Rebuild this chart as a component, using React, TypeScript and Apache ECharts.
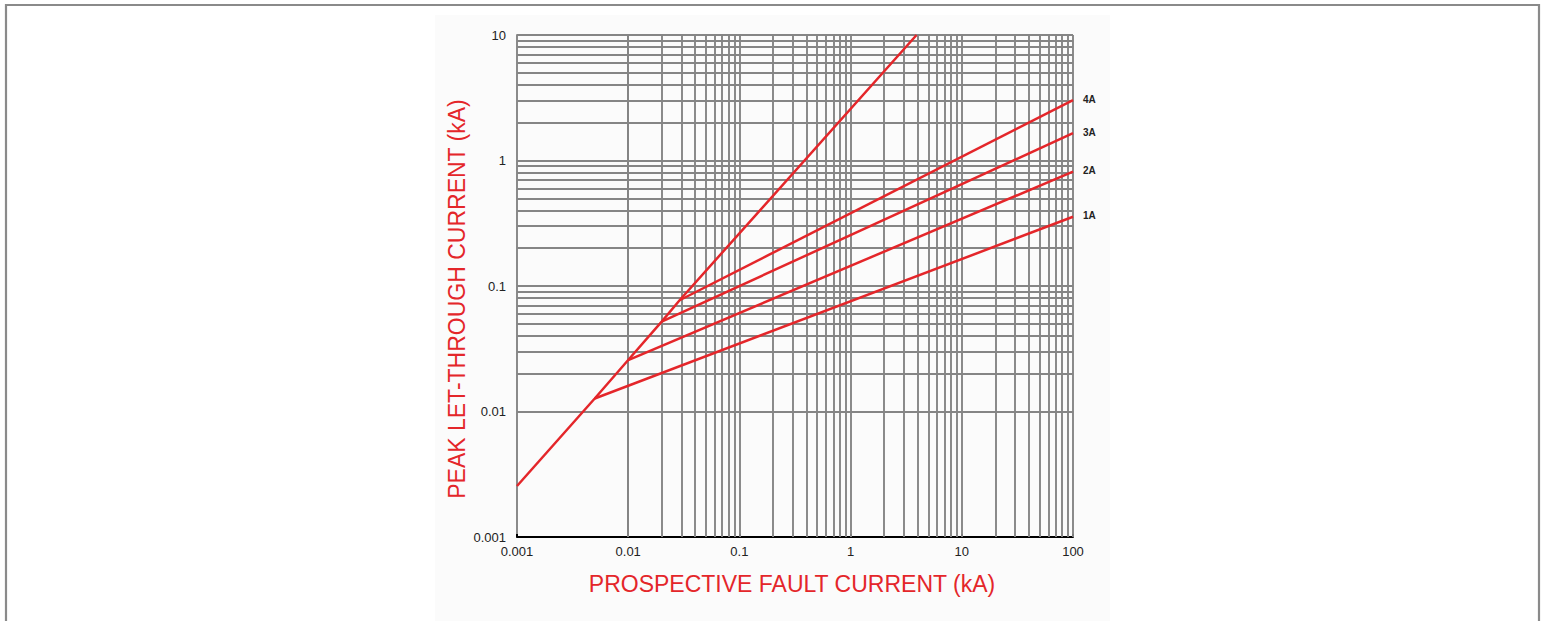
import React, { useEffect, useRef } from "react";
import * as echarts from "echarts";

// Tick labels
const xTickLabels = ["0.001", "0.01", "0.1", "1", "10", "100"];
const yTickLabels = ["0.001", "0.01", "0.1", "1", "10"];

// Axis titles
const xTitle = "PROSPECTIVE FAULT CURRENT (kA)";
const yTitle = "PEAK LET-THROUGH CURRENT (kA)";

// Cut-off envelope (prospective kA, peak kA)
const envelopeX = [0.001, 0.005, 0.01, 0.02, 0.029, 3.92];
const envelopeY = [0.00255, 0.0127, 0.0257, 0.052, 0.077, 10];

// Fuse rating curves
const ratingNames = ["1A", "2A", "3A", "4A"];
const ratingX = [
  [0.005, 100],
  [0.01, 100],
  [0.02, 100],
  [0.029, 100],
];
const ratingY = [
  [0.0127, 0.356],
  [0.0257, 0.815],
  [0.052, 1.65],
  [0.077, 3.03],
];

const RED = "#e4262a";
const GRID = "#858585";

function logGridValues(minExp: number, maxExp: number): number[] {
  const out: number[] = [];
  for (let e = minExp; e < maxExp; e++) {
    for (let k = 1; k <= 9; k++) {
      if (e === minExp && k === 1) continue;
      out.push(Number((k * Math.pow(10, e)).toPrecision(3)));
    }
  }
  out.push(Math.pow(10, maxExp));
  return out;
}

export default function App() {
  const ref = useRef<HTMLDivElement>(null);
  useEffect(() => {
    if (!ref.current) return;
    const chart = echarts.init(ref.current, null, { renderer: "svg" });
    const xGrid = logGridValues(-3, 2);
    const yGrid = logGridValues(-3, 1);
    const gridMarks = [
      ...xGrid.map((v) => ({ xAxis: v })),
      ...yGrid.map((v) => ({ yAxis: v })),
    ];
    const font = "Liberation Sans, Arial, sans-serif";
    const series: any[] = [
      {
        name: "grid",
        type: "line",
        data: [[0.001, 0.001]],
        symbol: "none",
        lineStyle: { width: 0 },
        z: 1,
        silent: true,
        markLine: {
          silent: true,
          symbol: "none",
          label: { show: false },
          lineStyle: { color: GRID, width: 1.9, type: "solid" },
          emphasis: { disabled: true },
          data: gridMarks,
        },
      },
      {
        name: "envelope",
        type: "line",
        data: envelopeX.map((x, i) => [x, envelopeY[i]]),
        symbol: "none",
        lineStyle: { color: RED, width: 2.5 },
        z: 5,
      },
      ...ratingNames.map((n, i) => ({
        name: n,
        type: "line",
        data: ratingX[i].map((x, j) => [x, ratingY[i][j]]),
        symbol: "none",
        lineStyle: { color: RED, width: 2.5 },
        z: 5,
        endLabel: {
          show: true,
          formatter: n,
          color: "#222",
          fontWeight: "bold",
          fontSize: 10,
          fontFamily: font,
          distance: 10,
          offset: [0, -1],
        },
      })),
    ];
    chart.setOption({
      animation: false,
      backgroundColor: "#ffffff",
      graphic: [
        {
          type: "rect",
          shape: { x: 435, y: 15, width: 675, height: 620 },
          style: { fill: "#fbfbfb" },
          z: -10,
          silent: true,
        },
        {
          type: "rect",
          shape: { x: 6, y: 5, width: 1533, height: 700 },
          style: { fill: "none", stroke: "#8a8a8a", lineWidth: 2.2 },
          z: -9,
          silent: true,
        },
        {
          type: "text",
          x: 792,
          y: 584,
          style: {
            text: xTitle,
            fill: RED,
            font: `23px ${font}`,
            textAlign: "center",
            textVerticalAlign: "middle",
          },
          silent: true,
        },
        {
          type: "text",
          x: 457,
          y: 299,
          rotation: Math.PI / 2,
          style: {
            text: yTitle,
            fill: RED,
            font: `23px ${font}`,
            textAlign: "center",
            textVerticalAlign: "middle",
          },
          silent: true,
        },
      ],
      grid: { left: 517, right: 470, top: 35, bottom: 84, containLabel: false },
      xAxis: {
        type: "log",
        logBase: 10,
        min: 0.001,
        max: 100,
        interval: 1,
        axisLine: { show: true, lineStyle: { color: "#000", width: 2 } },
        axisTick: { show: true, inside: true, length: 3, lineStyle: { color: "#000", width: 2 } },
        axisLabel: {
          color: "#222",
          fontSize: 13,
          fontFamily: font,
          margin: 8,
          formatter: (v: number) => xTickLabels[Math.round(Math.log10(v)) + 3] ?? "",
        },
        splitLine: { show: false },
        minorTick: { show: false },
      },
      yAxis: {
        type: "log",
        logBase: 10,
        min: 0.001,
        max: 10,
        interval: 1,
        axisLine: { show: true, lineStyle: { color: GRID, width: 1.9 } },
        axisTick: { show: false },
        axisLabel: {
          color: "#222",
          fontSize: 13,
          fontFamily: font,
          margin: 11,
          formatter: (v: number) => yTickLabels[Math.round(Math.log10(v)) + 3] ?? "",
        },
        splitLine: { show: false },
      },
      series,
    });
    return () => chart.dispose();
  }, []);
  return (
    <div
      ref={ref}
      style={{ position: "absolute", left: 0, top: 0, width: 1543, height: 621 }}
    />
  );
}
